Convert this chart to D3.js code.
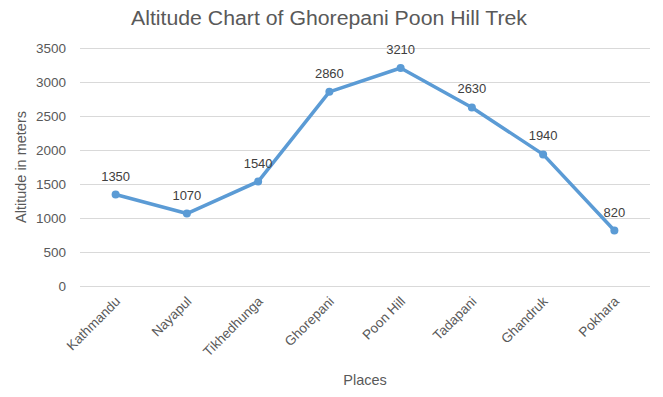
<!DOCTYPE html>
<html><head><meta charset="utf-8">
<script src="https://cdn.jsdelivr.net/npm/d3@7"></script>
<style>body{margin:0;background:#fff}svg{display:block}text{font-family:"Liberation Sans",Arial,sans-serif}</style>
</head><body>
<svg id="c" width="663" height="397"></svg>
<script>
const places = ["Kathmandu","Nayapul","Tikhedhunga","Ghorepani","Poon Hill","Tadapani","Ghandruk","Pokhara"];
const altitudes = [1350,1070,1540,2860,3210,2630,1940,820];
const yTicks = [0,500,1000,1500,2000,2500,3000,3500];
const titleText = "Altitude Chart of Ghorepani Poon Hill Trek";
const xTitle = "Places";
const yTitle = "Altitude in meters";

(function(){
const svg = d3.select("#c");
const pLeft = 80, pRight = 650, pTop = 48.3, pBottom = 286.3;
const x = d3.scalePoint().domain(places).range([pLeft, pRight]).padding(0.5);
const y = d3.scaleLinear().domain([0, 3500]).range([pBottom, pTop]);

// gridlines
svg.append("g").selectAll("line").data(yTicks).join("line")
  .attr("x1", pLeft).attr("x2", pRight)
  .attr("y1", d => Math.round(y(d)) + 0.5).attr("y2", d => Math.round(y(d)) + 0.5)
  .attr("stroke", "#d9d9d9").attr("stroke-width", 1);

// y axis labels
const yAxis = d3.axisLeft(y).tickValues(yTicks).tickSize(0).tickPadding(0).tickFormat(d3.format("d"));
const gy = svg.append("g").attr("transform", `translate(66,0)`).call(yAxis);
gy.select(".domain").remove();
gy.selectAll("text").attr("font-size", 13.5).attr("fill", "#595959")
  .attr("font-family", '"Liberation Sans",Arial,sans-serif');

// x axis labels
const xAxis = d3.axisBottom(x).tickSize(0).tickPadding(0);
const gx = svg.append("g").attr("transform", `translate(0,${pBottom})`).call(xAxis);
gx.select(".domain").remove();
gx.selectAll("text")
  .attr("font-size", 13.5).attr("fill", "#595959")
  .attr("font-family", '"Liberation Sans",Arial,sans-serif')
  .attr("text-anchor", "end")
  .attr("dy", null).attr("y", 0)
  .attr("transform", "translate(5,16) rotate(-45)");

// line
const line = d3.line().x((d, i) => x(places[i])).y(d => y(d));
svg.append("path").datum(altitudes).attr("d", line)
  .attr("fill", "none").attr("stroke", "#5b9bd5").attr("stroke-width", 3.5)
  .attr("stroke-linejoin", "round").attr("stroke-linecap", "round");

svg.append("g").selectAll("circle").data(altitudes).join("circle")
  .attr("cx", (d, i) => x(places[i])).attr("cy", d => y(d)).attr("r", 4)
  .attr("fill", "#5b9bd5");

// data labels
svg.append("g").selectAll("text").data(altitudes).join("text")
  .attr("x", (d, i) => x(places[i])).attr("y", d => y(d) - 14)
  .attr("text-anchor", "middle").attr("font-size", 13).attr("fill", "#404040")
  .text(d => d);

// title
svg.append("text").attr("x", 329).attr("y", 25).attr("text-anchor", "middle")
  .attr("font-size", 20).attr("fill", "#595959")
  .attr("textLength", 396).attr("lengthAdjust", "spacingAndGlyphs")
  .text(titleText);

// axis titles
svg.append("text").attr("x", 365).attr("y", 385).attr("text-anchor", "middle")
  .attr("font-size", 14.5).attr("fill", "#595959").text(xTitle);
svg.append("text").attr("transform", "translate(26,167) rotate(-90)")
  .attr("text-anchor", "middle").attr("font-size", 14.5).attr("fill", "#595959").text(yTitle);
})();
</script>
</body></html>
